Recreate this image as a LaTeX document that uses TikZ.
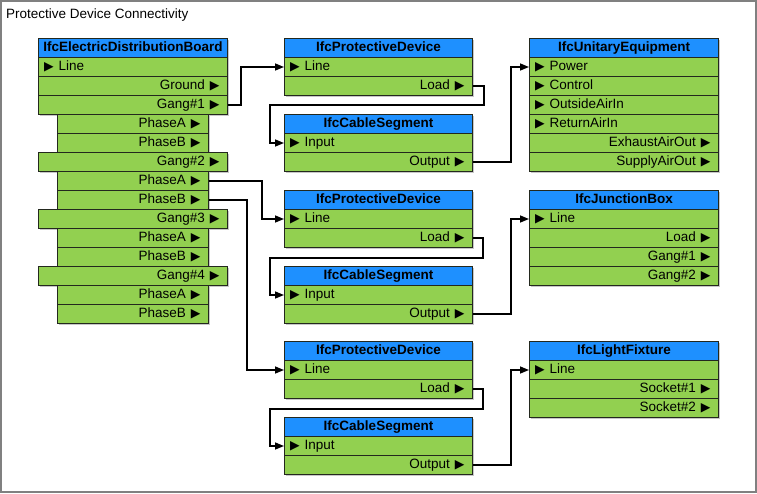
\documentclass[tikz,border=0pt]{standalone}
\usepackage{fontspec}
\setmainfont{Liberation Sans}
\newfontfamily\symfont{DejaVu Sans}
\usetikzlibrary{arrows.meta,shadows}
\definecolor{hdrblue}{RGB}{30,144,255}
\definecolor{rowgreen}{RGB}{146,208,80}
\definecolor{edgecol}{RGB}{35,40,30}
\definecolor{framecol}{RGB}{128,128,128}
\newcommand{\fsz}{\fontsize{13.5}{15}\selectfont}
\newcommand{\tri}{{\symfont\fontsize{12.5}{12}\selectfont ▶}}
\newcommand{\inl}[1]{\tri\hspace{5pt}#1}
\newcommand{\outl}[1]{#1\hspace{5pt}\tri}
\tikzset{
  boxbase/.style={draw=edgecol, line width=1pt, anchor=north west,
    minimum height=19pt, text height=10pt, text depth=3pt,
    drop shadow={shadow xshift=1.5pt, shadow yshift=-1.5pt, fill=black!22, opacity=1}},
  hdr/.style={boxbase, fill=hdrblue, minimum width=#1, inner sep=0pt, font=\fsz\bfseries},
  rl/.style={boxbase, fill=rowgreen, inner xsep=5.5pt, inner ysep=0pt, text width=#1,
    align=left, font=\fsz},
  rr/.style={boxbase, fill=rowgreen, inner xsep=8pt, inner ysep=0pt, text width=#1,
    align=right, font=\fsz},
  conn/.style={draw=black, line width=1.5pt, -{Triangle[length=9pt,width=7pt]}}
}
\begin{document}
\begin{tikzpicture}[x=1pt,y=-1pt]
\useasboundingbox (0,0) rectangle (757,493);
\draw[framecol, line width=2pt, fill=white] (1,1) rectangle (755.5,491.5);
\node[anchor=base west, font=\fsz, inner sep=0pt] (title) at (6,18.5) {Protective Device Connectivity};

% Electric distribution board
\node[hdr=189pt] (edb) at (38,38) {IfcElectricDistributionBoard};
\node[rl=178pt] (edb-line) at (38,57) {\inl{Line}};
\node[rr=173pt] (edb-ground) at (38,76) {\outl{Ground}};
\node[rr=173pt] (edb-g1) at (38,95) {\outl{Gang\#1}};
\node[rr=135pt] (edb-g1a) at (57,114) {\outl{PhaseA}};
\node[rr=135pt] (edb-g1b) at (57,133) {\outl{PhaseB}};
\node[rr=173pt] (edb-g2) at (38,152) {\outl{Gang\#2}};
\node[rr=135pt] (edb-g2a) at (57,171) {\outl{PhaseA}};
\node[rr=135pt] (edb-g2b) at (57,190) {\outl{PhaseB}};
\node[rr=173pt] (edb-g3) at (38,209) {\outl{Gang\#3}};
\node[rr=135pt] (edb-g3a) at (57,228) {\outl{PhaseA}};
\node[rr=135pt] (edb-g3b) at (57,247) {\outl{PhaseB}};
\node[rr=173pt] (edb-g4) at (38,266) {\outl{Gang\#4}};
\node[rr=135pt] (edb-g4a) at (57,285) {\outl{PhaseA}};
\node[rr=135pt] (edb-g4b) at (57,304) {\outl{PhaseB}};

% Protective device 1 / cable segment 1
\node[hdr=188pt] (pd1) at (284,38) {IfcProtectiveDevice};
\node[rl=177pt] (pd1-line) at (284,57) {\inl{Line}};
\node[rr=172pt] (pd1-load) at (284,76) {\outl{Load}};
\node[hdr=188pt] (cs1) at (284,114) {IfcCableSegment};
\node[rl=177pt] (cs1-in) at (284,133) {\inl{Input}};
\node[rr=172pt] (cs1-out) at (284,152) {\outl{Output}};

% Protective device 2 / cable segment 2
\node[hdr=188pt] (pd2) at (284,190) {IfcProtectiveDevice};
\node[rl=177pt] (pd2-line) at (284,209) {\inl{Line}};
\node[rr=172pt] (pd2-load) at (284,228) {\outl{Load}};
\node[hdr=188pt] (cs2) at (284,266) {IfcCableSegment};
\node[rl=177pt] (cs2-in) at (284,285) {\inl{Input}};
\node[rr=172pt] (cs2-out) at (284,304) {\outl{Output}};

% Protective device 3 / cable segment 3
\node[hdr=188pt] (pd3) at (284,341) {IfcProtectiveDevice};
\node[rl=177pt] (pd3-line) at (284,360) {\inl{Line}};
\node[rr=172pt] (pd3-load) at (284,379) {\outl{Load}};
\node[hdr=188pt] (cs3) at (284,417) {IfcCableSegment};
\node[rl=177pt] (cs3-in) at (284,436) {\inl{Input}};
\node[rr=172pt] (cs3-out) at (284,455) {\outl{Output}};

% Unitary equipment
\node[hdr=189pt] (ue) at (529,38) {IfcUnitaryEquipment};
\node[rl=178pt] (ue-power) at (529,57) {\inl{Power}};
\node[rl=178pt] (ue-control) at (529,76) {\inl{Control}};
\node[rl=178pt] (ue-oai) at (529,95) {\inl{OutsideAirIn}};
\node[rl=178pt] (ue-rai) at (529,114) {\inl{ReturnAirIn}};
\node[rr=173pt] (ue-eao) at (529,133) {\outl{ExhaustAirOut}};
\node[rr=173pt] (ue-sao) at (529,152) {\outl{SupplyAirOut}};

% Junction box
\node[hdr=189pt] (jb) at (529,190) {IfcJunctionBox};
\node[rl=178pt] (jb-line) at (529,209) {\inl{Line}};
\node[rr=173pt] (jb-load) at (529,228) {\outl{Load}};
\node[rr=173pt] (jb-g1) at (529,247) {\outl{Gang\#1}};
\node[rr=173pt] (jb-g2) at (529,266) {\outl{Gang\#2}};

% Light fixture
\node[hdr=189pt] (lf) at (529,341) {IfcLightFixture};
\node[rl=178pt] (lf-line) at (529,360) {\inl{Line}};
\node[rr=173pt] (lf-s1) at (529,379) {\outl{Socket\#1}};
\node[rr=173pt] (lf-s2) at (529,398) {\outl{Socket\#2}};

% Connectors
\draw[conn] (edb-g1.east) -- ++(13,0) |- (pd1-line.west);
\draw[conn] (pd1-load.east) -- ++(11,0) -- ++(0,19) -- ++(-214,0) |- (cs1-in.west);
\draw[conn] (cs1-out.east) -- ++(38,0) |- (ue-power.west);

\draw[conn] (edb-g2a.east) -- ++(53,0) |- (pd2-line.west);
\draw[conn] (edb-g2b.east) -- ++(38,0) |- (pd3-line.west);

\draw[conn] (pd2-load.east) -- ++(10,0) -- ++(0,20) -- ++(-213,0) |- (cs2-in.west);
\draw[conn] (cs2-out.east) -- ++(38,0) |- (jb-line.west);

\draw[conn] (pd3-load.east) -- ++(10,0) -- ++(0,20) -- ++(-213,0) |- (cs3-in.west);
\draw[conn] (cs3-out.east) -- ++(38,0) |- (lf-line.west);
\end{tikzpicture}
\end{document}
